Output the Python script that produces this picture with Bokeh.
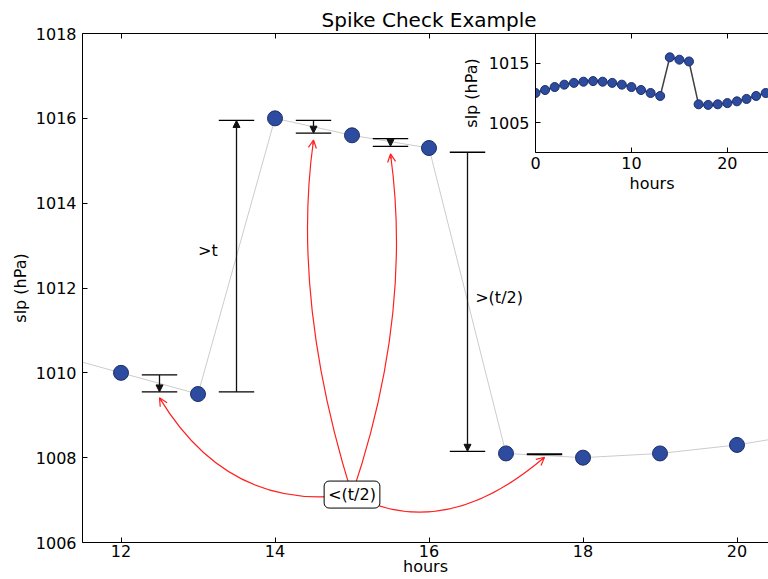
from bokeh.plotting import figure
from bokeh.models import (Range1d, LinearAxis, FixedTicker, Arrow, NormalHead, OpenHead,
                          Label, CustomJSTickFormatter, GridBox, ColumnDataSource)
from bokeh.embed import file_html
from bokeh.resources import INLINE
from bokeh.core.properties import value

# ---------------- data ----------------
hours = list(range(25))
slp = [1010.0, 1010.5, 1011.0, 1011.4, 1011.7, 1011.9, 1012.0, 1011.9, 1011.7, 1011.4,
       1011.0, 1010.5, 1010.0, 1009.5, 1016.0, 1015.6, 1015.3, 1008.1, 1008.0, 1008.1,
       1008.3, 1008.6, 1009.0, 1009.5, 1010.0]

main_xticks = [12, 14, 16, 18, 20]
main_yticks = [1006, 1008, 1010, 1012, 1014, 1016, 1018]
inset_xticks = [0, 10, 20]
inset_yticks = [1005, 1015]

# spike-check difference bars
check_x = [12.5, 13.5, 14.5, 15.5, 16.5]
check_from = [1009.95, 1009.55, 1015.95, 1015.52, 1015.20]
check_to = [1009.55, 1015.95, 1015.65, 1015.34, 1008.15]
flat_x = [17.5]
flat_y = [1008.08]
cap_half = 0.23

# text annotations
note_text = [">t", ">(t/2)"]
note_x = [13.0, 16.6]
note_y = [1012.88, 1011.78]

box_text = "<(t/2)"
box_x = 15.0
box_y = 1007.13

# red curved arrows from the box to targets
target_x = [12.5, 14.5, 15.5, 17.5]
target_y = [1009.41, 1015.49, 1015.16, 1008.01]
ctrl_x = [13.40, 14.21, 15.79, 16.19]
ctrl_y = [1006.71, 1011.71, 1011.35, 1005.98]

FONT = "DejaVu Sans"
BLUE = "#2d4b9f"
BLUE_EDGE = "#1d2f6b"


def style_axis(ax, ticks, standoff, label_standoff):
    ax.ticker = FixedTicker(ticks=ticks)
    ax.major_tick_in = 5
    ax.major_tick_out = 0
    ax.minor_tick_in = 0
    ax.minor_tick_out = 0
    ax.axis_line_color = "black"
    ax.axis_line_width = 1
    ax.major_tick_line_color = "black"
    ax.major_label_text_font = FONT
    ax.major_label_text_font_size = "16px"
    ax.major_label_text_color = "black"
    ax.major_label_standoff = standoff
    ax.axis_label_text_font = FONT
    ax.axis_label_text_font_size = "16px"
    ax.axis_label_text_font_style = "normal"
    ax.axis_label_text_color = "black"
    ax.axis_label_standoff = label_standoff


# ---------------- main figure ----------------
p = figure(width=768, height=579,
           x_range=Range1d(11.5, 20.409), y_range=Range1d(1006, 1018),
           output_backend="svg", toolbar_location=None,
           min_border_left=82, min_border_right=0, min_border_top=33, min_border_bottom=37,
           title="Spike Check Example", x_axis_label="hours", y_axis_label="slp (hPa)")
p.outline_line_color = None
p.xgrid.visible = False
p.ygrid.visible = False
p.background_fill_color = "white"
p.border_fill_color = "white"
p.title.text_font = FONT
p.title.text_font_size = "20px"
p.title.text_font_style = "normal"
p.title.text_color = "black"
p.title.align = "left"
p.title.offset = 239
p.title.standoff = 3

style_axis(p.xaxis[0], main_xticks, 2, -3)
style_axis(p.yaxis[0], main_yticks, 6, 3)

top = LinearAxis(formatter=CustomJSTickFormatter(code="return ''"))
style_axis(top, main_xticks, 0, 0)
top.major_label_text_font_size = "0px"
p.add_layout(top, "above")

src = ColumnDataSource(dict(h=hours, s=slp))
p.line("h", "s", source=src, line_color="#cccccc", line_width=1)
p.scatter("h", "s", source=src, size=15, fill_color=BLUE, line_color=BLUE_EDGE, line_width=1)

# difference bars with caps
cap_x0 = [x - cap_half for x in check_x] * 2
cap_x1 = [x + cap_half for x in check_x] * 2
cap_y = check_from + check_to
p.segment(x0=cap_x0, y0=cap_y, x1=cap_x1, y1=cap_y, line_color="black", line_width=1.3)
p.segment(x0=[x - cap_half for x in flat_x], y0=flat_y, x1=[x + cap_half for x in flat_x],
          y1=flat_y, line_color="black", line_width=2.2)
for x, y0, y1 in zip(check_x, check_from, check_to):
    p.add_layout(Arrow(end=NormalHead(size=7, fill_color="#111111", line_color="#111111"),
                       x_start=x, y_start=y0, x_end=x, y_end=y1,
                       line_color="#111111", line_width=1.3))

p.text(x=note_x, y=note_y, text=note_text, text_font=value(FONT), text_font_size="16px",
       text_align="left", text_baseline="middle", text_color="black")

# red curved arrows
n = len(target_x)
p.quadratic(x0=[box_x] * n, y0=[box_y] * n, x1=target_x, y1=target_y, cx=ctrl_x, cy=ctrl_y,
            line_color="#ff2020", line_width=1.2)
for tx, ty, cx, cy in zip(target_x, target_y, ctrl_x, ctrl_y):
    p.add_layout(Arrow(end=OpenHead(size=8, line_color="#ff2020", line_width=1.2),
                       x_start=tx - 0.03 * (tx - cx), y_start=ty - 0.03 * (ty - cy),
                       x_end=tx, y_end=ty, line_color="#ff2020", line_width=1.2))

p.add_layout(Label(x=box_x, y=box_y, text=box_text, text_align="center", text_baseline="middle",
                   text_font=FONT, text_font_size="16px", text_color="black",
                   background_fill_color="white", border_line_color="black",
                   border_line_width=1, padding=4, border_radius=5))

# ---------------- inset ----------------
inset = figure(width=310, height=163,
               x_range=Range1d(0, 24.29), y_range=Range1d(1000, 1020),
               output_backend="svg", toolbar_location=None,
               min_border_left=74, min_border_right=0, min_border_top=0, min_border_bottom=44,
               x_axis_label="hours", y_axis_label="slp (hPa)")
inset.outline_line_color = None
inset.xgrid.visible = False
inset.ygrid.visible = False
inset.background_fill_color = "white"
inset.border_fill_alpha = 0
style_axis(inset.xaxis[0], inset_xticks, 4, 2)
style_axis(inset.yaxis[0], inset_yticks, 6, 5)
itop = LinearAxis(formatter=CustomJSTickFormatter(code="return ''"))
style_axis(itop, inset_xticks, 0, 0)
itop.major_label_text_font_size = "0px"
inset.add_layout(itop, "above")

isrc = ColumnDataSource(dict(h=hours, s=slp))
inset.line("h", "s", source=isrc, line_color="#404040", line_width=1.5)
inset.scatter("h", "s", source=isrc, size=9, fill_color=BLUE, line_color=BLUE_EDGE, line_width=1)

layout = GridBox(children=[(p, 0, 0, 3, 2), (inset, 1, 1, 1, 1)],
                 rows=["33px", "163px", "383px"], cols=["458px", "310px"], spacing=0)

open("out.html", "w").write(file_html(layout, INLINE))
